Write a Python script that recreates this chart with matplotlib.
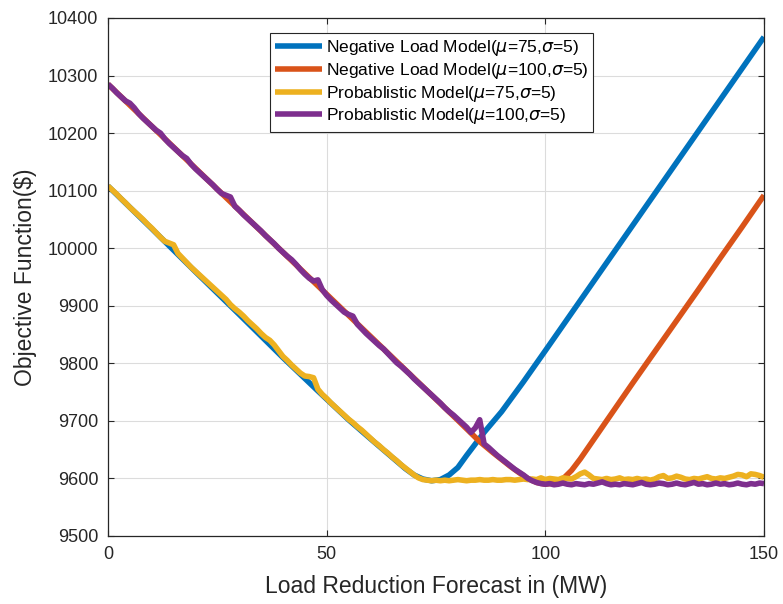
import matplotlib
matplotlib.use("Agg")
import matplotlib.pyplot as plt
import numpy as np

plt.rcParams['font.family'] = ['Liberation Sans', 'DejaVu Sans']
plt.rcParams['mathtext.fontset'] = 'dejavusans'

# ---- data ----
neg75_x = [0, 10, 20, 30, 40, 48, 55, 60, 62, 64, 66, 68, 70, 72, 74, 76, 78, 80, 82, 84,
           86, 88, 90, 95, 100, 110, 120, 130, 140, 150]
neg75_y = [10108, 10034, 9959, 9885, 9810, 9752, 9702, 9669, 9656, 9643, 9630, 9617, 9606,
           9599, 9596, 9598, 9606, 9619, 9640, 9660, 9680, 9698, 9716, 9768, 9822, 9931,
           10040, 10149, 10258, 10367]

neg100_x = [0, 10, 20, 30, 40, 50, 60, 70, 80, 85, 88, 90, 92, 94, 96, 98, 100, 102, 104,
            106, 108, 110, 112, 114, 116, 118, 120, 125, 130, 135, 140, 145, 150]
neg100_y = [10285, 10212, 10139, 10066, 9993, 9920, 9847, 9774, 9701, 9664, 9645, 9633,
            9621, 9610, 9600, 9593, 9590, 9592, 9599, 9614, 9634, 9656, 9678, 9700, 9722,
            9744, 9766, 9820, 9874, 9928, 9983, 10037, 10092]

prob_x = list(range(0, 151))
prob75_y = [10108, 10101, 10094, 10086, 10079, 10071, 10064, 10057, 10050, 10042,
            10035, 10027, 10019, 10012, 10009, 10006, 9991, 9983, 9975, 9967,
            9960, 9953, 9946, 9939, 9932, 9925, 9918, 9911, 9902, 9895,
            9889, 9882, 9874, 9867, 9860, 9852, 9845, 9840, 9832, 9822,
            9812, 9805, 9797, 9790, 9783, 9778, 9777, 9775, 9755, 9746,
            9739, 9731, 9724, 9717, 9710, 9703, 9697, 9690, 9684, 9677,
            9670, 9663, 9657, 9650, 9644, 9637, 9631, 9624, 9618, 9612,
            9606, 9601, 9598, 9597, 9596, 9597, 9596, 9597, 9596, 9597,
            9598, 9597, 9596, 9597, 9597, 9598, 9597, 9597, 9598, 9597,
            9597, 9598, 9598, 9597, 9598, 9599, 9598, 9599, 9598, 9601,
            9598, 9600, 9599, 9598, 9601, 9600, 9599, 9603, 9608, 9611,
            9606, 9600, 9599, 9598, 9600, 9598, 9599, 9601, 9598, 9599,
            9598, 9600, 9598, 9599, 9597, 9599, 9603, 9605, 9600, 9601,
            9604, 9602, 9599, 9598, 9600, 9599, 9601, 9603, 9600, 9599,
            9601, 9600, 9602, 9604, 9607, 9606, 9603, 9608, 9607, 9605,
            9602]
prob100_y = [10285, 10278, 10270, 10263, 10256, 10252, 10244, 10234, 10226, 10219,
             10212, 10205, 10200, 10190, 10182, 10175, 10168, 10161, 10156, 10146,
             10138, 10131, 10124, 10117, 10110, 10102, 10095, 10092, 10089, 10073,
             10066, 10058, 10051, 10044, 10037, 10030, 10022, 10015, 10008, 10000,
             9993, 9986, 9980, 9972, 9963, 9955, 9948, 9943, 9945, 9928,
             9918, 9910, 9903, 9896, 9889, 9885, 9882, 9868, 9860, 9852,
             9845, 9838, 9831, 9825, 9817, 9809, 9801, 9795, 9788, 9781,
             9773, 9766, 9759, 9752, 9745, 9738, 9731, 9723, 9716, 9710,
             9703, 9696, 9689, 9680, 9688, 9702, 9660, 9654, 9647, 9640,
             9634, 9628, 9622, 9616, 9611, 9606, 9600, 9596, 9593, 9591,
             9590, 9591, 9589, 9590, 9592, 9590, 9589, 9591, 9590, 9589,
             9591, 9590, 9592, 9594, 9591, 9589, 9590, 9589, 9591, 9590,
             9589, 9591, 9593, 9590, 9589, 9590, 9592, 9591, 9589, 9590,
             9592, 9590, 9589, 9591, 9593, 9590, 9591, 9589, 9590, 9592,
             9590, 9591, 9589, 9590, 9592, 9590, 9589, 9591, 9590, 9592,
             9591]

labels = [r'Negative Load Model($\mu$=75,$\sigma$=5)',
          r'Negative Load Model($\mu$=100,$\sigma$=5)',
          r'Probablistic Model($\mu$=75,$\sigma$=5)',
          r'Probablistic Model($\mu$=100,$\sigma$=5)']
colors = ['#0072BD', '#D95319', '#EDB120', '#7E2F8E']

xticks = [0, 50, 100, 150]
yticks = list(range(9500, 10401, 100))

# ---- figure ----
fig = plt.figure(figsize=(7.83, 6.04), dpi=100)
ax = fig.add_axes([108 / 783, 68 / 604, 656 / 783, 518 / 604])

lw = 4.0
ax.plot(neg75_x, neg75_y, color=colors[0], lw=lw, label=labels[0], solid_capstyle='butt')
ax.plot(neg100_x, neg100_y, color=colors[1], lw=lw, label=labels[1], solid_capstyle='butt')
ax.plot(prob_x, prob75_y, color=colors[2], lw=lw, label=labels[2], solid_capstyle='butt')
ax.plot(prob_x, prob100_y, color=colors[3], lw=lw, label=labels[3], solid_capstyle='butt')

ax.set_xlim(0, 150)
ax.set_ylim(9500, 10400)
ax.set_xticks(xticks)
ax.set_yticks(yticks)
ax.grid(True, color='#dcdcdc', lw=0.8)
ax.set_axisbelow(True)
ax.tick_params(direction='in', top=True, right=True, labelsize=13, colors='#262626',
               length=4, width=0.8, pad=7)
for s in ax.spines.values():
    s.set_color('#262626')
    s.set_linewidth(0.9)

ax.set_xlabel('Load Reduction Forecast in (MW)', fontsize=16.5, color='#262626', labelpad=9)
ax.set_ylabel(r'Objective Function(\$)', fontsize=16.5, color='#262626', labelpad=8)

leg = ax.legend(loc='upper center', bbox_to_anchor=(0.4934, 0.9705), fontsize=12.5,
                frameon=True, fancybox=False, framealpha=1, edgecolor='#262626',
                handlelength=2.7, handletextpad=0.2, borderpad=0.3, labelspacing=0.15,
                borderaxespad=0)
leg.get_frame().set_linewidth(0.8)

fig.savefig('out.png', dpi=100)
